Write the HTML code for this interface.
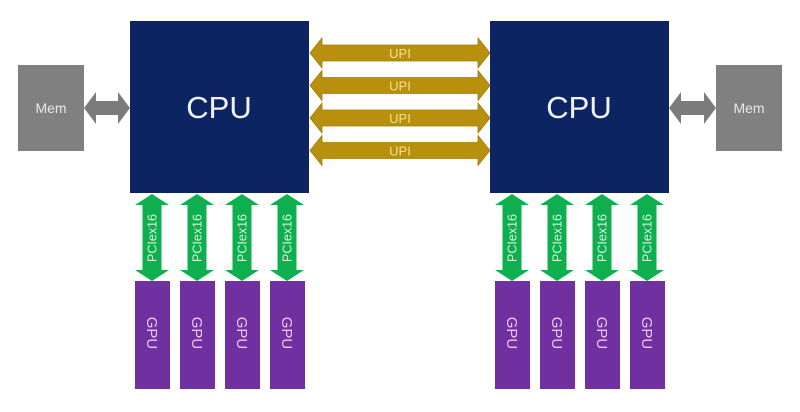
<!DOCTYPE html>
<html>
<head>
<meta charset="utf-8">
<style>
  html, body { margin: 0; padding: 0; background: #ffffff; }
  body { width: 800px; height: 412px; overflow: hidden; }
  svg { display: block; }
  text { font-family: "Liberation Sans", "DejaVu Sans", sans-serif; }
</style>
</head>
<body>
<svg width="800" height="412" viewBox="0 0 800 412" xmlns="http://www.w3.org/2000/svg">
  <rect x="0" y="0" width="800" height="412" fill="#ffffff"/>

  <!-- Mem boxes -->
  <rect x="18" y="65" width="66" height="86" fill="#808080"/>
  <text x="51" y="113" font-size="14" fill="#e8e8e8" text-anchor="middle">Mem</text>
  <rect x="716" y="65" width="66" height="86" fill="#808080"/>
  <text x="749" y="113" font-size="14" fill="#e8e8e8" text-anchor="middle">Mem</text>

  <!-- Mem arrows -->
  <polygon fill="#7b7b7b" points="84,108 96,92 96,101 118,101 118,92 130,108 118,124 118,115 96,115 96,124"/>
  <polygon fill="#7b7b7b" points="669,108 681,92 681,101 704,101 704,92 716,108 704,124 704,115 681,115 681,124"/>

  <!-- CPU boxes -->
  <rect x="130" y="21" width="179" height="172" fill="#0c2462"/>
  <text x="219" y="118" font-size="31" fill="#f2f4f8" text-anchor="middle">CPU</text>
  <rect x="490" y="21" width="179" height="172" fill="#0c2462"/>
  <text x="579" y="118" font-size="31" fill="#f2f4f8" text-anchor="middle">CPU</text>

  <!-- UPI arrows -->
  <g fill="#b8900e" stroke="#a07c08" stroke-width="0.8">
    <polygon points="310,53 322,38 322,45 478,45 478,38 490,53 478,68 478,61 322,61 322,68"/>
    <polygon points="310,85.5 322,70.5 322,77.5 478,77.5 478,70.5 490,85.5 478,100.5 478,93.5 322,93.5 322,100.5"/>
    <polygon points="310,118 322,103 322,110 478,110 478,103 490,118 478,133 478,126 322,126 322,133"/>
    <polygon points="310,150.5 322,135.5 322,142.5 478,142.5 478,135.5 490,150.5 478,165.5 478,158.5 322,158.5 322,165.5"/>
  </g>
  <g font-size="13" fill="#f3df8e" text-anchor="middle">
    <text x="400" y="58">UPI</text>
    <text x="400" y="90.5">UPI</text>
    <text x="400" y="123">UPI</text>
    <text x="400" y="155.5">UPI</text>
  </g>

  <!-- PCIe arrows -->
  <g fill="#0fae4f">
    <polygon points="152,194 169,205 161.5,205 161.5,270 169,270 152,281 135,270 142.5,270 142.5,205 135,205"/>
    <polygon points="197,194 214,205 206.5,205 206.5,270 214,270 197,281 180,270 187.5,270 187.5,205 180,205"/>
    <polygon points="242,194 259,205 251.5,205 251.5,270 259,270 242,281 225,270 232.5,270 232.5,205 225,205"/>
    <polygon points="287,194 304,205 296.5,205 296.5,270 304,270 287,281 270,270 277.5,270 277.5,205 270,205"/>
    <polygon points="512,194 529,205 521.5,205 521.5,270 529,270 512,281 495,270 502.5,270 502.5,205 495,205"/>
    <polygon points="557,194 574,205 566.5,205 566.5,270 574,270 557,281 540,270 547.5,270 547.5,205 540,205"/>
    <polygon points="602,194 619,205 611.5,205 611.5,270 619,270 602,281 585,270 592.5,270 592.5,205 585,205"/>
    <polygon points="647,194 664,205 656.5,205 656.5,270 664,270 647,281 630,270 637.5,270 637.5,205 630,205"/>
  </g>
  <g font-size="12.5" fill="#d4f5dc" text-anchor="middle">
    <text transform="translate(156.5,238) rotate(-90)">PCIex16</text>
    <text transform="translate(201.5,238) rotate(-90)">PCIex16</text>
    <text transform="translate(246.5,238) rotate(-90)">PCIex16</text>
    <text transform="translate(291.5,238) rotate(-90)">PCIex16</text>
    <text transform="translate(516.5,238) rotate(-90)">PCIex16</text>
    <text transform="translate(561.5,238) rotate(-90)">PCIex16</text>
    <text transform="translate(606.5,238) rotate(-90)">PCIex16</text>
    <text transform="translate(651.5,238) rotate(-90)">PCIex16</text>
  </g>

  <!-- GPU boxes -->
  <g fill="#7030a0">
    <rect x="135" y="281" width="35" height="108"/>
    <rect x="180" y="281" width="35" height="108"/>
    <rect x="225" y="281" width="35" height="108"/>
    <rect x="270" y="281" width="35" height="108"/>
    <rect x="495" y="281" width="35" height="108"/>
    <rect x="540" y="281" width="35" height="108"/>
    <rect x="585" y="281" width="35" height="108"/>
    <rect x="630" y="281" width="35" height="108"/>
  </g>
  <g font-size="15" fill="#ecc9f2" text-anchor="middle">
    <text transform="translate(147,333) rotate(90)">GPU</text>
    <text transform="translate(192,333) rotate(90)">GPU</text>
    <text transform="translate(237,333) rotate(90)">GPU</text>
    <text transform="translate(282,333) rotate(90)">GPU</text>
    <text transform="translate(507,333) rotate(90)">GPU</text>
    <text transform="translate(552,333) rotate(90)">GPU</text>
    <text transform="translate(597,333) rotate(90)">GPU</text>
    <text transform="translate(642,333) rotate(90)">GPU</text>
  </g>
</svg>
</body>
</html>
